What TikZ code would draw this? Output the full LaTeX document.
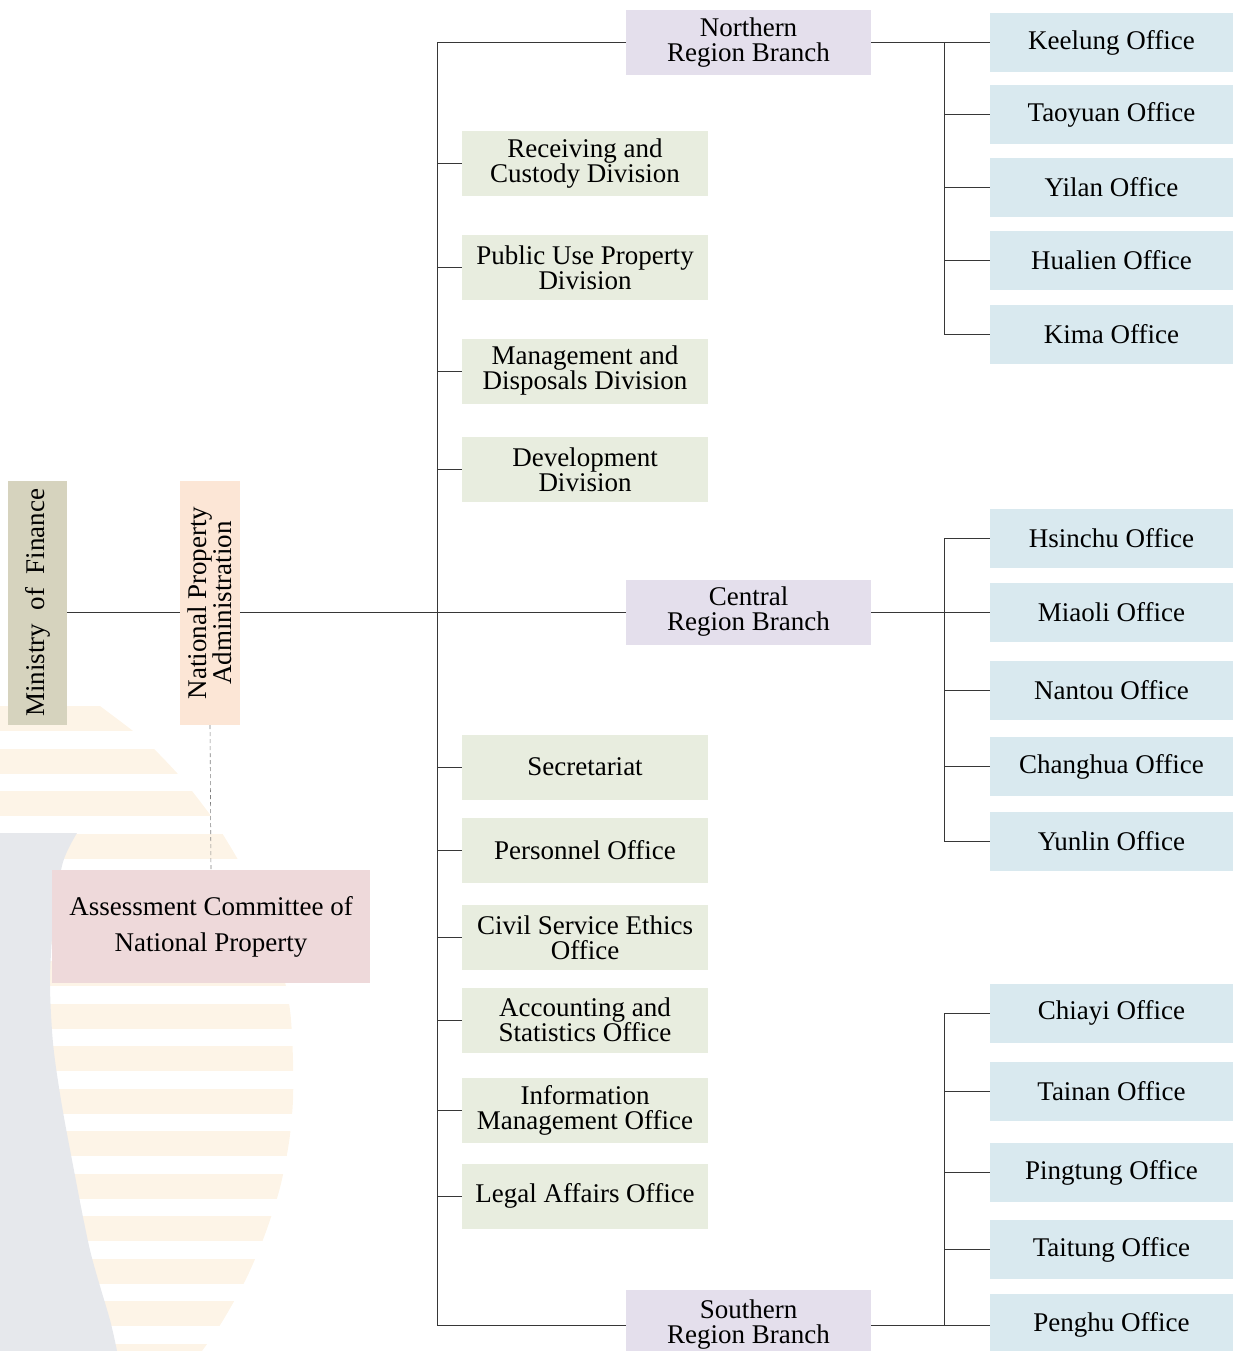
\documentclass[tikz,border=0pt]{standalone}
\usepackage{fontspec}
\setmainfont{Liberation Serif}
\usetikzlibrary{positioning}
\definecolor{mofkhaki}{RGB}{214,211,190}
\definecolor{npapeach}{RGB}{252,230,214}
\definecolor{committeepink}{RGB}{238,217,218}
\definecolor{branchlilac}{RGB}{228,223,236}
\definecolor{divgreen}{RGB}{232,237,223}
\definecolor{officeblue}{RGB}{217,233,239}
\definecolor{stripecream}{RGB}{253,244,231}
\definecolor{shadegray}{RGB}{230,232,236}
\definecolor{linegray}{RGB}{55,55,55}

\begin{document}
\begin{tikzpicture}[x=1pt, y=-1pt,
    box/.style={rectangle, inner sep=0pt, align=center, font=\fontsize{27}{25}\selectfont},
    branch/.style={box, fill=branchlilac, minimum width=245pt, minimum height=65pt},
    division/.style={box, fill=divgreen, minimum width=246pt, minimum height=65pt},
    office/.style={box, fill=officeblue, minimum width=243pt, minimum height=59pt},
    link/.style={draw=linegray, line width=1pt}]
    \useasboundingbox (0,0) rectangle (1234,1351);

    % Background stripes
    \begin{scope}
        \clip (0,700) -- (92,700) -- plot[smooth] coordinates {(100,706) (133,731) (153,748) (177,773) (192,791) (211,816) (222,833) (237,858) (251,885) (266,920) (280,960) (290,1010) (293,1060) (293,1100) (290,1135) (285,1165) (278,1195) (264,1237) (246,1279) (222,1322) (202,1351)} -- (0,1351) -- cycle;
        \foreach \k in {0,...,15}
            \fill[stripecream] (0,{706+42.5*\k}) rectangle (300,{731+42.5*\k});
    \end{scope}
    \fill[shadegray] (0,833) -- plot[smooth] coordinates {(77,833) (63,862) (54,915) (50,980) (53,1043) (61,1100) (72,1160) (90,1250) (110,1320) (117,1351)} -- (0,1351) -- cycle;

    % Ministry and administration
    \node[box, fill=mofkhaki, rotate=90, minimum width=244pt, minimum height=59pt] (mof) at (37.5,603) {Ministry~ of~ Finance};
    \node[box, fill=npapeach, rotate=90, minimum width=244pt, minimum height=60pt] (npa) at (210,603) {National Property\\Administration};
    \node[box, fill=committeepink, minimum width=318pt, minimum height=113pt, font=\fontsize{27}{36}\selectfont] (committee) at (211,926.5) {Assessment Committee of\\National Property};

    % Branches
    \node[branch] (north) at (748.5,42.5) {Northern\\Region Branch};
    \node[branch] (central) at (748.5,612) {Central\\Region Branch};
    \node[branch, minimum height=70pt] (south) at (748.5,1325) {Southern\\Region Branch};

    % Divisions
    \node[division] (recv) at (585,163.5) {Receiving and\\Custody Division};
    \node[division] (pubuse) at (585,267.5) {Public Use Property\\Division};
    \node[division] (mgmt) at (585,371) {Management and\\Disposals Division};
    \node[division] (devel) at (585,469.5) {Development\\Division};
    \node[division] (secr) at (585,767) {Secretariat};
    \node[division] (pers) at (585,850.5) {Personnel Office};
    \node[division] (ethics) at (585,937.5) {Civil Service Ethics\\Office};
    \node[division] (acct) at (585,1020) {Accounting and\\Statistics Office};
    \node[division] (info) at (585,1110) {Information\\Management Office};
    \node[division] (legal) at (585,1196) {Legal Affairs Office};

    % Local offices
    \node[office] (keelung) at (1111.5,42.5) {Keelung Office};
    \node[office] (taoyuan) at (1111.5,114.5) {Taoyuan Office};
    \node[office] (yilan) at (1111.5,187.5) {Yilan Office};
    \node[office] (hualien) at (1111.5,260.5) {Hualien Office};
    \node[office] (kima) at (1111.5,334) {Kima Office};
    \node[office] (hsinchu) at (1111.5,538) {Hsinchu Office};
    \node[office] (miaoli) at (1111.5,612) {Miaoli Office};
    \node[office] (nantou) at (1111.5,690.5) {Nantou Office};
    \node[office] (changhua) at (1111.5,766.5) {Changhua Office};
    \node[office] (yunlin) at (1111.5,841.5) {Yunlin Office};
    \node[office] (chiayi) at (1111.5,1013) {Chiayi Office};
    \node[office] (tainan) at (1111.5,1091.5) {Tainan Office};
    \node[office] (pingtung) at (1111.5,1172.5) {Pingtung Office};
    \node[office] (taitung) at (1111.5,1249.5) {Taitung Office};
    \node[office, minimum height=62pt] (penghu) at (1111.5,1325) {Penghu Office};

    % Connectors
    \coordinate (spine) at (437,0);
    \coordinate (sub) at (944,0);
    \draw[link] (mof.south |- central) -- (npa.north |- central);
    \draw[link] (npa.south |- central) -- (central.west);
    \draw[link, draw=gray, line width=0.6pt, dash pattern=on 4pt off 3pt] (npa.west) -- (committee.north);
    \draw[link] (north.west) -- (north.west -| spine) -- (south.west -| spine) -- (south.west);
    \foreach \d in {recv,pubuse,mgmt,devel,secr,pers,ethics,acct,info,legal}
        \draw[link] (\d.west -| spine) -- (\d.west);

    \draw[link] (north.east) -- (north.east -| keelung.west);
    \draw[link] (keelung.west -| sub) -- (kima.west -| sub);
    \draw[link] (central.east) -- (central.east -| miaoli.west);
    \draw[link] (hsinchu.west -| sub) -- (yunlin.west -| sub);
    \draw[link] (south.east) -- (south.east -| penghu.west);
    \draw[link] (chiayi.west -| sub) -- (penghu.west -| sub);
    \foreach \o in {keelung,taoyuan,yilan,hualien,kima,hsinchu,miaoli,nantou,changhua,yunlin,chiayi,tainan,pingtung,taitung,penghu}
        \draw[link] (\o.west -| sub) -- (\o.west);
\end{tikzpicture}
\end{document}
